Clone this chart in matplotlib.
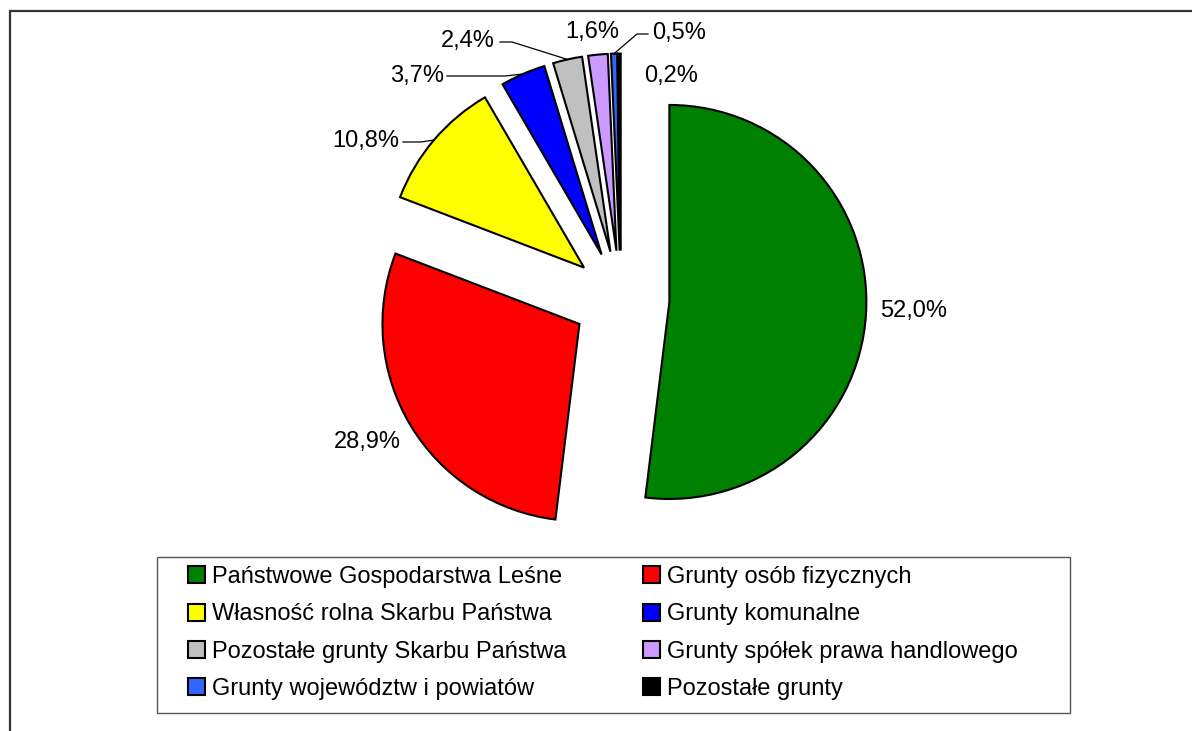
import numpy as np
import matplotlib
matplotlib.use("Agg")
import matplotlib.pyplot as plt
from matplotlib.patches import Rectangle

# ---- data ----
categories = [
    "Państwowe Gospodarstwa Leśne",
    "Grunty osób fizycznych",
    "Własność rolna Skarbu Państwa",
    "Grunty komunalne",
    "Pozostałe grunty Skarbu Państwa",
    "Grunty spółek prawa handlowego",
    "Grunty województw i powiatów",
    "Pozostałe grunty",
]
shares = [52.0, 28.9, 10.8, 3.7, 2.4, 1.6, 0.5, 0.2]
labels = ["52,0%", "28,9%", "10,8%", "3,7%", "2,4%", "1,6%", "0,5%", "0,2%"]
colors = ["#008000", "#FF0000", "#FFFF00", "#0000FF", "#C0C0C0", "#CC99FF",
          "#3366FF", "#000000"]

# ---- layout (pixels) ----
W, H = 1192, 731
CX, CY, R = 621, 299, 197          # pie centre and radius in pixels
EXPLODE = 0.246
label_pos = [(914, 311), (367, 442), (366, 141), (417, 76), (468, 41),
             (592, 32), (679, 33), (671, 76)]
# leader lines: wedge index -> (start x at label edge, knee x, y)
leaders = {2: (403, 421, 142), 3: (447, 505, 76), 4: (500, 512, 42),
           6: (648, 637, 34)}

plt.rcParams["font.family"] = ["Liberation Sans", "DejaVu Sans"]
FS = 17

fig = plt.figure(figsize=(W / 100, H / 100), dpi=100)
ax = fig.add_axes([0, 0, 1, 1])

def p2d(px, py):
    return (px - CX) / R, (CY - py) / R

wedges, _ = ax.pie(shares, colors=colors, startangle=90, counterclock=False,
                   explode=[EXPLODE] * len(shares),
                   wedgeprops=dict(edgecolor="black", linewidth=1.5))
ax.set_xlim(-CX / R, (W - CX) / R)
ax.set_ylim(-(H - CY) / R, CY / R)
ax.set_aspect("auto")
ax.axis("off")

for lab, (px, py) in zip(labels, label_pos):
    x, y = p2d(px, py)
    ax.text(x, y, lab, fontsize=FS, ha="center", va="center")

for i, (sx, kx, ly) in leaders.items():
    w = wedges[i]
    mid = np.deg2rad((w.theta1 + w.theta2) / 2)
    ex = w.center[0] + w.r * np.cos(mid)
    ey = w.center[1] + w.r * np.sin(mid)
    x0, y0 = p2d(sx, ly)
    x1, y1 = p2d(kx, ly)
    ax.plot([x0, x1, ex], [y0, y1, ey], color="black", lw=0.9)

# legend, filled row by row (2 columns)
order = [0, 2, 4, 6, 1, 3, 5, 7]
leg = fig.legend([wedges[i] for i in order], [categories[i] for i in order],
                 ncol=2, frameon=False, fontsize=FS,
                 loc="upper left", bbox_to_anchor=(188 / W, 1 - 566 / H),
                 borderpad=0, borderaxespad=0, handlelength=0.72,
                 handleheight=0.72, handletextpad=0.3, labelspacing=0.65,
                 columnspacing=3.23)
fig.patches.append(Rectangle((157 / W, 1 - 713 / H), (1070 - 157) / W,
                             (713 - 557) / H, transform=fig.transFigure,
                             fill=False, edgecolor="#555555", lw=1.0))
# outer frame (cropped at right / bottom)
fig.patches.append(Rectangle((10 / W, -0.1), 1.2, 1 - 11 / H + 0.1,
                             transform=fig.transFigure, fill=False,
                             edgecolor="#333333", lw=1.6))

fig.savefig("out.png", dpi=100)
